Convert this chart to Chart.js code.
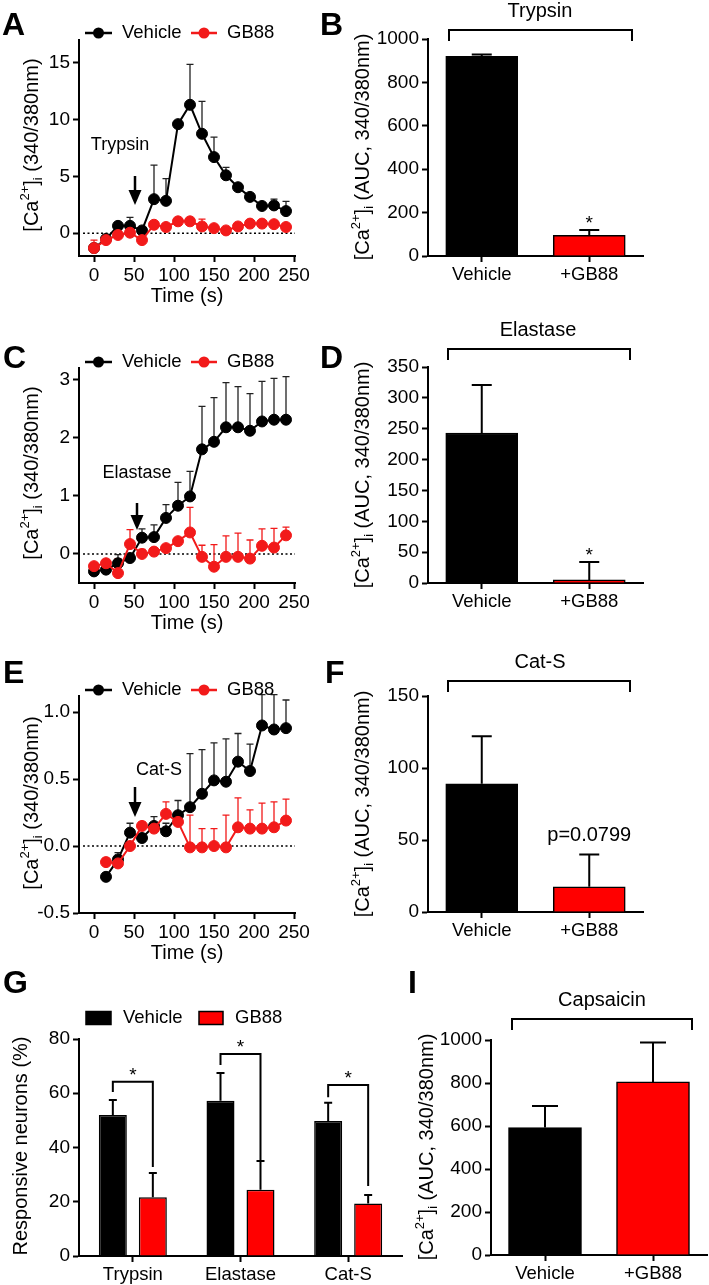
<!DOCTYPE html>
<html>
<head>
<meta charset="utf-8">
<script src="https://cdn.jsdelivr.net/npm/chart.js@4.4.1/dist/chart.umd.min.js"></script>
<style>
  body { margin: 0; background: #fff; }
  #fig { position: relative; width: 709px; height: 1285px; }
  #fig canvas { position: absolute; left: 0; top: 0; }
</style>
</head>
<body>
<div id="fig">
  <canvas id="cA" width="709" height="1285"></canvas>
  <canvas id="cB" width="709" height="1285"></canvas>
  <canvas id="cC" width="709" height="1285"></canvas>
  <canvas id="cD" width="709" height="1285"></canvas>
  <canvas id="cE" width="709" height="1285"></canvas>
  <canvas id="cF" width="709" height="1285"></canvas>
  <canvas id="cG" width="709" height="1285"></canvas>
  <canvas id="cI" width="709" height="1285"></canvas>
</div>
<script>
// ── data ────────────────────────────────────────────────────
const timeAC = [0, 15, 30, 45, 60, 75, 90, 105, 120, 135, 150, 165, 180, 195, 210, 225, 240];
const timeE  = [15, 30, 45, 60, 75, 90, 105, 120, 135, 150, 165, 180, 195, 210, 225, 240];
const timeTicks = [0, 50, 100, 150, 200, 250];

// A – trypsin time course
const trypVeh    = [-1.3, -0.5, 0.65, 0.65, 0.25, 3.0, 2.85, 9.6, 11.3, 8.75, 6.7, 5.1, 4.05, 3.2, 2.4, 2.45, 1.95];
const trypVehSem = [0.3, 0.2, 0.3, 0.75, 0.2, 3.0, 1.95, 0.3, 3.55, 2.85, 1.75, 0.7, 0.3, 0.3, 0.3, 0.55, 0.85];
const trypGb     = [-1.3, -0.6, -0.15, 0.05, -0.6, 0.75, 0.55, 1.05, 1.05, 0.6, 0.45, 0.25, 0.6, 0.85, 0.85, 0.8, 0.55];
const trypGbSem  = [0.7, 0.2, 0.2, 0.2, 0.2, 0.2, 0.2, 0.2, 0.2, 0.65, 0.2, 0.2, 0.2, 0.2, 0.2, 0.2, 0.2];
const ticksA = [0, 5, 10, 15];

// C – elastase time course
const elaVeh    = [-0.30, -0.27, -0.16, -0.07, 0.28, 0.29, 0.62, 0.83, 0.99, 1.80, 1.93, 2.18, 2.18, 2.12, 2.28, 2.31, 2.31];
const elaVehSem = [0.05, 0.05, 0.15, 0.05, 0.15, 0.21, 0.23, 0.40, 0.43, 0.74, 0.76, 0.77, 0.70, 0.64, 0.69, 0.71, 0.74];
const elaGb     = [-0.21, -0.16, -0.33, 0.17, 0.0, 0.04, 0.10, 0.22, 0.37, -0.05, -0.22, -0.05, -0.05, -0.08, 0.14, 0.11, 0.32];
const elaGbSem  = [0.05, 0.05, 0.25, 0.25, 0.08, 0.07, 0.05, 0.05, 0.43, 0.20, 0.38, 0.36, 0.41, 0.32, 0.29, 0.33, 0.14];
const ticksC = [0, 1, 2, 3];

// E – cathepsin S time course
const catVeh    = [-0.23, -0.10, 0.10, 0.06, 0.15, 0.11, 0.23, 0.29, 0.39, 0.49, 0.48, 0.63, 0.56, 0.90, 0.87, 0.88];
const catVehSem = [0.03, 0.05, 0.07, 0.03, 0.07, 0.06, 0.11, 0.40, 0.33, 0.28, 0.32, 0.21, 0.20, 0.23, 0.26, 0.21];
const catGb     = [-0.12, -0.13, 0.0, 0.15, 0.13, 0.24, 0.18, -0.01, -0.01, 0.0, -0.01, 0.14, 0.13, 0.13, 0.14, 0.19];
const catGbSem  = [0.03, 0.03, 0.03, 0.03, 0.03, 0.09, 0.03, 0.24, 0.14, 0.13, 0.24, 0.22, 0.14, 0.19, 0.19, 0.16];
const ticksE = [-0.5, 0, 0.5, 1.0];

// B, D, F, I – AUC bars
const aucGroups = ['Vehicle', '+GB88'];
const aucTrypsin = [920, 95],    aucTrypsinSem = [8, 25];
const aucElastase = [243, 5],    aucElastaseSem = [78, 29];
const aucCatS = [89, 17.5],      aucCatSSem = [33, 22.5];
const aucCapsaicin = [593, 805], aucCapsaicinSem = [100, 183];
const ticksB = [0, 200, 400, 600, 800, 1000];
const ticksD = [0, 50, 100, 150, 200, 250, 300, 350];
const ticksF = [0, 50, 100, 150];
const ticksI = [0, 200, 400, 600, 800, 1000];

// G – responsive neurons
const agonists = ['Trypsin', 'Elastase', 'Cat-S'];
const respVeh = [52, 57.2, 49.8], respVehSem = [5.5, 10.3, 6.7];
const respGb  = [21.7, 24.4, 19.4], respGbSem = [8.9, 10.6, 3.1];
const ticksG = [0, 20, 40, 60, 80];

// ── common setup ────────────────────────────────────────────
const W = 709, H = 1285;
const FONT = "'Liberation Sans', Arial, Helvetica, sans-serif";
const RED = '#ff0000';
const PT_RED = '#f21a1a';
Chart.defaults.font.family = FONT;
Chart.defaults.font.size = 19;
Chart.defaults.color = '#000';

const setTicks = vals => scale => { scale.ticks = vals.map(v => ({ value: v })); };

function axis(extra) {
  return Object.assign({
    border: { display: true, color: '#000', width: 2 },
    grid: { display: true, drawOnChartArea: false, drawTicks: true, tickLength: 6, tickWidth: 2, tickColor: '#000', offset: false },
  }, extra);
}

function text(ctx, s, x, y, size, opts = {}) {
  ctx.font = (opts.bold ? 'bold ' : '') + size + 'px ' + FONT;
  ctx.textAlign = opts.align || 'center';
  ctx.textBaseline = opts.base || 'middle';
  ctx.fillStyle = '#000';
  ctx.fillText(s, x, y);
}

// rotated y title, with optional super/subscript pieces
function yTitle(ctx, t) {
  const parts = t.ca
    ? [['[Ca', 20, 0], ['2+', 13, -9], [']', 20, 0], ['i', 13, 4], [t.tail, 20, 0]]
    : [[t.text, 20, 0]];
  ctx.save();
  ctx.translate(t.cx, t.cy);
  ctx.rotate(-Math.PI / 2);
  ctx.fillStyle = '#000';
  ctx.textAlign = 'left';
  ctx.textBaseline = 'alphabetic';
  let total = 0;
  parts.forEach(p => { ctx.font = p[1] + 'px ' + FONT; total += ctx.measureText(p[0]).width; });
  let u = -total / 2;
  parts.forEach(p => {
    ctx.font = p[1] + 'px ' + FONT;
    ctx.fillText(p[0], u, 6 + p[2]);
    u += ctx.measureText(p[0]).width;
  });
  ctx.restore();
}

function arrow(ctx, a) {
  ctx.strokeStyle = '#000';
  ctx.fillStyle = '#000';
  ctx.lineWidth = 2.5;
  ctx.beginPath(); ctx.moveTo(a.x, a.top); ctx.lineTo(a.x, a.tip - 12); ctx.stroke();
  ctx.beginPath();
  ctx.moveTo(a.x - 6.5, a.tip - 15); ctx.lineTo(a.x + 6.5, a.tip - 15); ctx.lineTo(a.x, a.tip);
  ctx.closePath(); ctx.fill();
}

function lineLegend(ctx, y) {
  [['#000', 85, 112, 122, 'Vehicle'], [PT_RED, 191, 217, 227, 'GB88']].forEach(([c, x0, x1, tx, s]) => {
    ctx.strokeStyle = c; ctx.fillStyle = c; ctx.lineWidth = 2.5;
    ctx.beginPath(); ctx.moveTo(x0, y); ctx.lineTo(x1, y); ctx.stroke();
    ctx.beginPath(); ctx.arc((x0 + x1) / 2, y, 5.5, 0, Math.PI * 2); ctx.fill();
    text(ctx, s, tx, y, 18.5, { align: 'left' });
  });
}

function boxLegend(ctx, y) {
  [['#000', 86, 25, 123, 'Vehicle'], [RED, 199, 24, 235, 'GB88']].forEach(([c, x, w, tx, s]) => {
    ctx.fillStyle = c; ctx.fillRect(x, y - 6.5, w, 13);
    ctx.strokeStyle = '#000'; ctx.lineWidth = 1.5; ctx.strokeRect(x, y - 6.5, w, 13);
    text(ctx, s, tx, y, 18.5, { align: 'left' });
  });
}

function makeExtras(o) {
  return {
    id: 'extras' + o.letter.t,
    beforeDatasetsDraw(chart) {
      const ctx = chart.ctx, xs = chart.scales.x, ys = chart.scales.y;
      ctx.save();
      if (o.zeroLine) {
        const y = ys.getPixelForValue(0);
        ctx.setLineDash([2, 2.5]); ctx.lineWidth = 1.6; ctx.strokeStyle = '#000';
        ctx.beginPath(); ctx.moveTo(chart.chartArea.left + 4, y); ctx.lineTo(chart.chartArea.right, y); ctx.stroke();
        ctx.setLineDash([]);
      }
      if (o.kind === 'line') {
        chart.data.datasets.forEach(ds => {
          ctx.strokeStyle = ds.errColor; ctx.lineWidth = 1.3;
          ds.data.forEach((p, i) => {
            const e = ds.err[i];
            if (!e) return;
            const x = xs.getPixelForValue(p.x), y0 = ys.getPixelForValue(p.y), y1 = ys.getPixelForValue(p.y + e);
            ctx.beginPath();
            ctx.moveTo(x, y0); ctx.lineTo(x, y1);
            ctx.moveTo(x - 3.5, y1); ctx.lineTo(x + 3.5, y1);
            ctx.stroke();
          });
        });
      }
      ctx.restore();
    },
    afterDraw(chart) {
      const ctx = chart.ctx, ys = chart.scales.y, area = chart.chartArea;
      ctx.save();
      // bar error bars
      const tops = [];
      if (o.kind === 'bar') {
        chart.data.datasets.forEach((ds, i) => {
          const meta = chart.getDatasetMeta(i);
          tops[i] = [];
          ds.data.forEach((v, j) => {
            const el = meta.data[j];
            const y1 = ys.getPixelForValue(v + ds.err[j]);
            tops[i][j] = { x: el.x, y: y1 };
            ctx.strokeStyle = '#000'; ctx.lineWidth = 2;
            ctx.beginPath();
            ctx.moveTo(el.x, el.y); ctx.lineTo(el.x, y1);
            ctx.moveTo(el.x - o.cap, y1); ctx.lineTo(el.x + o.cap, y1);
            ctx.stroke();
          });
        });
      }
      // panel letter
      text(ctx, o.letter.t, o.letter.x, o.letter.y, 32, { bold: true, align: 'left', base: 'alphabetic' });
      yTitle(ctx, o.yTitle);
      if (o.xTitle) text(ctx, o.xTitle, (area.left + area.right) / 2, area.bottom + 40, 20);
      if (o.legend === 'line') lineLegend(ctx, o.legendY);
      if (o.legend === 'box') boxLegend(ctx, o.legendY);
      if (o.note) {
        text(ctx, o.note.text, o.note.x, o.note.y, 18);
        arrow(ctx, o.note.arrow);
      }
      if (o.title) text(ctx, o.title.text, o.title.x, o.title.y, 20);
      if (o.bracket) {
        const b = o.bracket;
        ctx.strokeStyle = '#000'; ctx.lineWidth = 2;
        ctx.beginPath();
        ctx.moveTo(b.l, b.y + b.drop); ctx.lineTo(b.l, b.y); ctx.lineTo(b.r, b.y); ctx.lineTo(b.r, b.y + b.drop);
        ctx.stroke();
      }
      (o.marks || []).forEach(m => {
        const t = tops[0][m.bar];
        if (m.text === '*') text(ctx, '*', t.x, t.y - 1, 19, { base: 'alphabetic' });
        else text(ctx, m.text, t.x, t.y - 19, 20);
      });
      (o.groupBrackets || []).forEach((g, i) => {
        const xl = tops[0][i].x, xr = tops[1][i].x;
        const yh = ys.getPixelForValue(g.h), yl = ys.getPixelForValue(g.l), yr = ys.getPixelForValue(g.r);
        ctx.strokeStyle = '#000'; ctx.lineWidth = 2;
        ctx.beginPath();
        ctx.moveTo(xl, yl); ctx.lineTo(xl, yh); ctx.lineTo(xr, yh); ctx.lineTo(xr, yr);
        ctx.stroke();
        text(ctx, '*', (xl + xr) / 2, yh - 1, 19, { base: 'alphabetic' });
      });
      ctx.restore();
    },
  };
}

function baseOptions(a) {
  return {
    responsive: false,
    animation: false,
    devicePixelRatio: 1,
    layout: { padding: { left: 0, top: a.t, right: W - a.r, bottom: 0 } },
    plugins: { legend: { display: false }, tooltip: { enabled: false } },
  };
}

// ── time-course panels (A, C, E) ─────────────────────────────
function timeCourse(id, p) {
  const a = p.area;
  const opts = baseOptions(a);
  opts.elements = {
    point: { radius: 5.5, hoverRadius: 5.5, borderWidth: 1 },
    line: { borderWidth: 2, tension: 0 },
  };
  opts.scales = {
    x: axis({
      type: 'linear', min: -18.75, max: 251.25,
      afterBuildTicks: setTicks(timeTicks),
      afterFit: s => { s.height = H - a.b; },
      ticks: { padding: 2, autoSkip: false, maxRotation: 0, font: { size: 19 } },
    }),
    y: axis({
      min: p.yMin, max: p.yMax,
      afterBuildTicks: setTicks(p.yTicks),
      afterFit: s => { s.width = a.l; },
      ticks: { padding: 3, font: { size: 19 }, callback: v => p.dec ? Number(v).toFixed(p.dec) : String(v) },
    }),
  };
  new Chart(document.getElementById(id), {
    type: 'line',
    data: {
      datasets: [
        { label: 'GB88', data: p.time.map((t, i) => ({ x: t, y: p.gb[i] })), err: p.gbSem, errColor: PT_RED,
          borderColor: PT_RED, backgroundColor: PT_RED, pointBorderColor: PT_RED, order: 0 },
        { label: 'Vehicle', data: p.time.map((t, i) => ({ x: t, y: p.veh[i] })), err: p.vehSem, errColor: '#222',
          borderColor: '#000', backgroundColor: '#000', pointBorderColor: '#000', order: 1 },
      ],
    },
    options: opts,
    plugins: [makeExtras(Object.assign({ kind: 'line', zeroLine: true, legend: 'line', xTitle: 'Time (s)' }, p.extras))],
  });
}

// ── bar panels ──────────────────────────────────────────────
function barPanel(id, p) {
  const a = p.area;
  const opts = baseOptions(a);
  opts.scales = {
    x: axis({
      afterFit: s => { s.height = H - a.b; },
      ticks: { padding: 2, autoSkip: false, maxRotation: 0, font: { size: 18.5 } },
    }),
    y: axis({
      min: 0, max: p.yTicks[p.yTicks.length - 1],
      afterBuildTicks: setTicks(p.yTicks),
      afterFit: s => { s.width = a.l; },
      ticks: { padding: 3, font: { size: 19 }, callback: v => String(v) },
    }),
  };
  new Chart(document.getElementById(id), {
    type: 'bar',
    data: { labels: p.labels, datasets: p.datasets },
    options: opts,
    plugins: [makeExtras(Object.assign({ kind: 'bar' }, p.extras))],
  });
}

function aucDatasets(vals, sem, thick) {
  return [{
    data: vals, err: sem, barThickness: thick,
    backgroundColor: ['#000', RED], borderColor: '#000', borderWidth: 1.5,
  }];
}

// A
timeCourse('cA', {
  area: { l: 79, t: 40, r: 295, b: 256 }, yMin: -2, yMax: 17, yTicks: ticksA,
  time: timeAC, veh: trypVeh, vehSem: trypVehSem, gb: trypGb, gbSem: trypGbSem,
  extras: {
    letter: { t: 'A', x: 2, y: 35 }, legendY: 33,
    yTitle: { ca: true, tail: ' (340/380nm)', cx: 32, cy: 145 },
    note: { text: 'Trypsin', x: 120, y: 145, arrow: { x: 135, top: 176, tip: 205 } },
  },
});
// C
timeCourse('cC', {
  area: { l: 79, t: 368, r: 295, b: 583 }, yMin: -0.5, yMax: 3.2, yTicks: ticksC,
  time: timeAC, veh: elaVeh, vehSem: elaVehSem, gb: elaGb, gbSem: elaGbSem,
  extras: {
    letter: { t: 'C', x: 3, y: 368 }, legendY: 362,
    yTitle: { ca: true, tail: ' (340/380nm)', cx: 32, cy: 473 },
    note: { text: 'Elastase', x: 137, y: 473, arrow: { x: 137, top: 503, tip: 530 } },
  },
});
// E
timeCourse('cE', {
  area: { l: 79, t: 696, r: 295, b: 913 }, yMin: -0.5, yMax: 1.12, yTicks: ticksE, dec: 1,
  time: timeE, veh: catVeh, vehSem: catVehSem, gb: catGb, gbSem: catGbSem,
  extras: {
    letter: { t: 'E', x: 3, y: 683 }, legendY: 690,
    yTitle: { ca: true, tail: ' (340/380nm)', cx: 32, cy: 803 },
    note: { text: 'Cat-S', x: 159, y: 770, arrow: { x: 135, top: 787, tip: 817 } },
  },
});
// B
barPanel('cB', {
  area: { l: 428, t: 39, r: 643, b: 256 }, yTicks: ticksB, labels: aucGroups,
  datasets: aucDatasets(aucTrypsin, aucTrypsinSem, 72),
  extras: {
    letter: { t: 'B', x: 320, y: 35 }, cap: 10,
    yTitle: { ca: true, tail: ' (AUC, 340/380nm)', cx: 363, cy: 147 },
    title: { text: 'Trypsin', x: 540, y: 11 },
    bracket: { l: 449, r: 632, y: 30, drop: 11 },
    marks: [{ text: '*', bar: 1 }],
  },
});
// D
barPanel('cD', {
  area: { l: 428, t: 367, r: 643, b: 583 }, yTicks: ticksD, labels: aucGroups,
  datasets: aucDatasets(aucElastase, aucElastaseSem, 72),
  extras: {
    letter: { t: 'D', x: 320, y: 368 }, cap: 10,
    yTitle: { ca: true, tail: ' (AUC, 340/380nm)', cx: 363, cy: 475 },
    title: { text: 'Elastase', x: 538, y: 330 },
    bracket: { l: 448, r: 630, y: 349, drop: 11 },
    marks: [{ text: '*', bar: 1 }],
  },
});
// F
barPanel('cF', {
  area: { l: 428, t: 696, r: 643, b: 912 }, yTicks: ticksF, labels: aucGroups,
  datasets: aucDatasets(aucCatS, aucCatSSem, 72),
  extras: {
    letter: { t: 'F', x: 325, y: 683 }, cap: 10,
    yTitle: { ca: true, tail: ' (AUC, 340/380nm)', cx: 363, cy: 804 },
    title: { text: 'Cat-S', x: 540, y: 662 },
    bracket: { l: 448, r: 630, y: 681, drop: 11 },
    marks: [{ text: 'p=0.0799', bar: 1 }],
  },
});
// I
barPanel('cI', {
  area: { l: 491, t: 1040, r: 707, b: 1255 }, yTicks: ticksI, labels: aucGroups,
  datasets: aucDatasets(aucCapsaicin, aucCapsaicinSem, 73),
  extras: {
    letter: { t: 'I', x: 408, y: 993 }, cap: 13,
    yTitle: { ca: true, tail: ' (AUC, 340/380nm)', cx: 427, cy: 1147 },
    title: { text: 'Capsaicin', x: 602, y: 1000 },
    bracket: { l: 512, r: 692, y: 1019, drop: 11 },
  },
});
// G
barPanel('cG', {
  area: { l: 79, t: 1039, r: 402, b: 1256 }, yTicks: ticksG, labels: agonists,
  datasets: [
    { label: 'Vehicle', data: respVeh, err: respVehSem, backgroundColor: '#000', borderColor: '#000', borderWidth: 1.5,
      categoryPercentage: 0.743, barPercentage: 0.7 },
    { label: 'GB88', data: respGb, err: respGbSem, backgroundColor: RED, borderColor: '#000', borderWidth: 1.5,
      categoryPercentage: 0.743, barPercentage: 0.7 },
  ],
  extras: {
    letter: { t: 'G', x: 3, y: 993 }, cap: 4, legend: 'box', legendY: 1018,
    yTitle: { text: 'Responsive neurons (%)', cx: 21, cy: 1146 },
    groupBrackets: [{ h: 64.2, l: 60.5, r: 32.8 }, { h: 74.5, l: 70.4, r: 35.4 }, { h: 63, l: 58.5, r: 25.8 }],
  },
});
</script>
</body>
</html>
